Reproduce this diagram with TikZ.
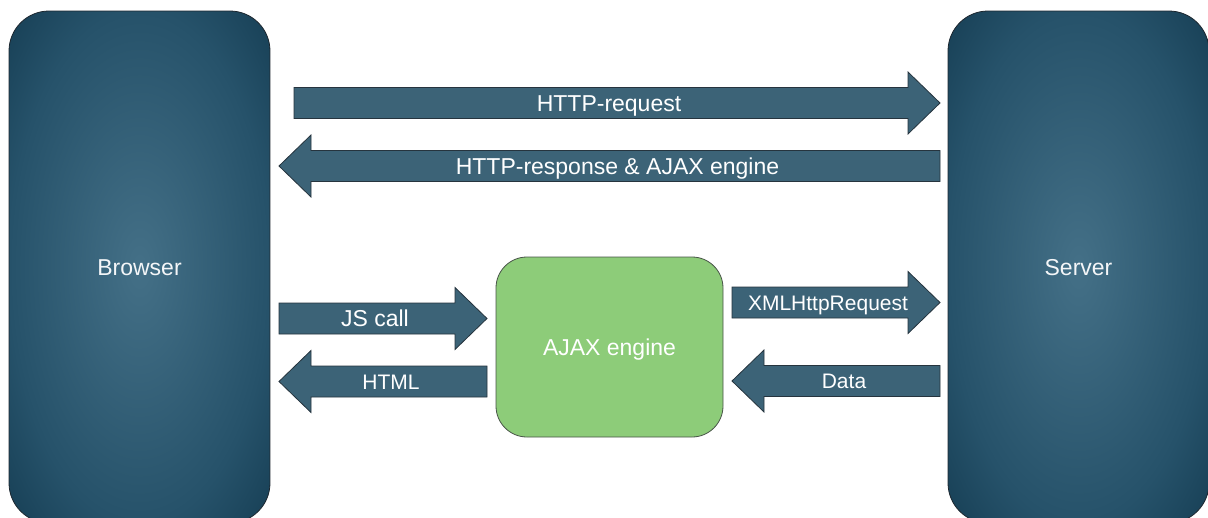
\documentclass[tikz,border=0pt]{standalone}
\usepackage{fontspec}
\setmainfont{Liberation Sans}
\usepackage{tikz}
\usetikzlibrary{calc,positioning,shapes}

\definecolor{boxin}{RGB}{68,112,135}
\definecolor{boxmid}{RGB}{38,82,106}
\definecolor{boxout}{RGB}{22,62,84}
\definecolor{boxline}{RGB}{30,40,48}
\definecolor{arrowfill}{RGB}{60,99,119}
\definecolor{arrowline}{RGB}{38,52,62}
\definecolor{ajaxgreen}{RGB}{141,204,121}
\definecolor{ajaxline}{RGB}{72,84,72}

\pgfdeclareradialshading{sidefade}{\pgfpoint{0bp}{0bp}}{%
  color(0bp)=(boxin); color(25bp)=(boxmid); color(36bp)=(boxout);
  color(50bp)=(boxout)}

% block arrow: name, tail, tip, label, label style
\newcommand{\fatarrow}[5]{%
  \coordinate (#1-h) at ($(#3)!32pt!(#2)$);
  \coordinate (#1-m) at ($(#3)!16pt!(#2)$);
  \draw[arrowbody] ($(#2)!15.5pt!90:(#3)$) -- ($(#1-h)!15.5pt!90:(#3)$)
    -- ($(#1-h)!31pt!90:(#3)$) -- (#3) -- ($(#1-h)!31pt!-90:(#3)$)
    -- ($(#1-h)!15.5pt!-90:(#3)$) -- ($(#2)!15.5pt!-90:(#3)$) -- cycle;
  \node[#5] (#1) at ($(#2)!.5!(#1-m)$) {#4};
}

\tikzset{
  side/.style={draw=boxline, line width=0.8pt, rounded corners=40pt,
    shading=sidefade, text=white!94!boxin,
    minimum width=261pt, minimum height=512pt, inner sep=0pt,
    text height=16.5pt, text depth=0pt,
    font=\fontsize{23}{27}\selectfont},
  engine/.style={draw=ajaxline, line width=0.8pt, rounded corners=31pt,
    fill=ajaxgreen, text=white, minimum width=227pt, minimum height=180pt,
    inner sep=0pt, text height=16.5pt, text depth=0pt,
    font=\fontsize{23}{27}\selectfont},
  arrowbody/.style={draw=arrowline, line width=0.8pt, fill=arrowfill},
  biglbl/.style={text=white, inner sep=0pt, text height=16.5pt, text depth=0pt,
    font=\fontsize{23}{27}\selectfont},
  smalllbl/.style={text=white, inner sep=0pt, text height=15pt, text depth=0pt,
    font=\fontsize{21}{25}\selectfont}
}

\begin{document}
\begin{tikzpicture}[x=1pt, y=-1pt]
\useasboundingbox (0,0) rectangle (1208,517);

\node[side] (browser) at (139.5,267) {Browser};
\node[side] (server) at (1078.5,267) {Server};
\node[engine] (ajax) at (609.5,347) {AJAX engine};

\coordinate (req-a) at (294,103);
\coordinate (req-b) at (940,103);
\coordinate (resp-a) at (940,166);
\coordinate (resp-b) at (279,166);
\coordinate (js-a) at (279,318.5);
\coordinate (js-b) at (487,318.5);
\coordinate (html-a) at (487,381.5);
\coordinate (html-b) at (279,381.5);
\coordinate (xhr-a) at (732,302.5);
\coordinate (xhr-b) at (940,302.5);
\coordinate (data-a) at (940,381);
\coordinate (data-b) at (732,381);

\fatarrow{req}{req-a}{req-b}{HTTP-request}{biglbl}
\fatarrow{resp}{resp-a}{resp-b}{HTTP-response \& AJAX engine}{biglbl}
\fatarrow{js}{js-a}{js-b}{JS call}{biglbl}
\fatarrow{html}{html-a}{html-b}{HTML}{smalllbl}
\fatarrow{xhr}{xhr-a}{xhr-b}{XMLHttpRequest}{smalllbl}
\fatarrow{data}{data-a}{data-b}{Data}{smalllbl}

\end{tikzpicture}
\end{document}
